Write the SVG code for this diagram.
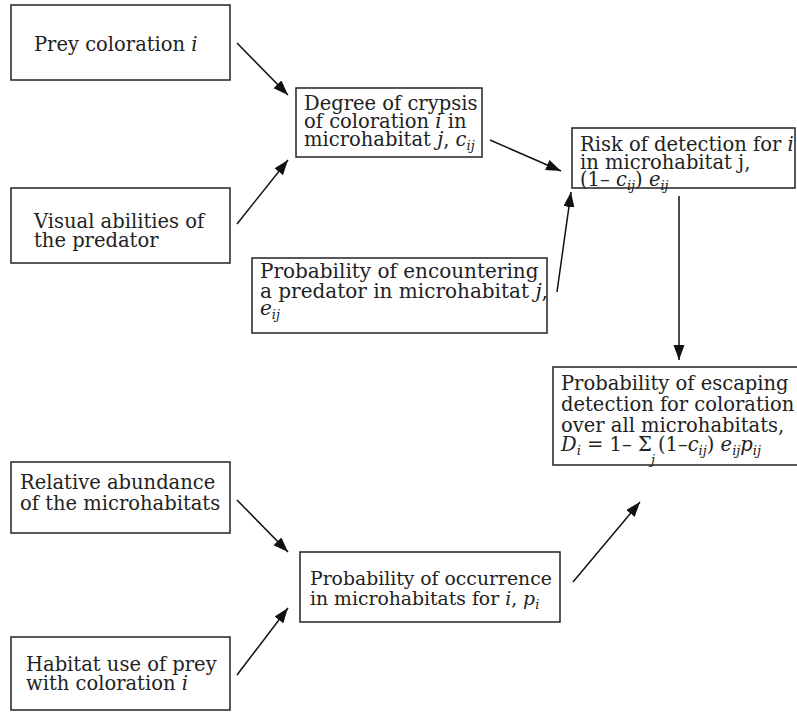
<svg xmlns="http://www.w3.org/2000/svg" width="797" height="713" viewBox="0 0 797 713">
<defs>
<style>
.box{fill:#fff;stroke:#222;stroke-width:1.5}
.t{font-family:"DejaVu Serif","Liberation Serif",serif;font-size:19.5px;fill:#222}
.t20{font-size:20px}
.t19{font-size:18.8px}
.it{font-style:italic}
.sub{font-size:13px;font-style:italic}
.conn line{stroke:#111;stroke-width:1.5}
</style>
<marker id="ah" markerUnits="userSpaceOnUse" markerWidth="16" markerHeight="12" refX="15" refY="5.5" orient="auto">
<path d="M0,0 L15,5.5 L0,11 z" fill="#111"/>
</marker>
</defs>
<rect width="797" height="713" fill="#fff"/>
<g id="connectors" class="conn">
<line x1="237" y1="43" x2="288" y2="95" marker-end="url(#ah)"/>
<line x1="237" y1="224" x2="288" y2="160" marker-end="url(#ah)"/>
<line x1="490" y1="140" x2="561" y2="171" marker-end="url(#ah)"/>
<line x1="557" y1="292" x2="571" y2="192" marker-end="url(#ah)"/>
<line x1="679" y1="196" x2="679" y2="360" marker-end="url(#ah)"/>
<line x1="237" y1="500" x2="288" y2="552" marker-end="url(#ah)"/>
<line x1="237" y1="675" x2="288" y2="608" marker-end="url(#ah)"/>
<line x1="573" y1="582" x2="640" y2="502" marker-end="url(#ah)"/>
</g>
<g id="prey">
<rect class="box" x="11" y="5" width="219" height="75"/>
<text class="t" x="34" y="51">Prey coloration <tspan class="it">i</tspan></text>
</g>
<g id="visual">
<rect class="box" x="11" y="188" width="219" height="75"/>
<text class="t" x="34" y="228">Visual abilities of</text>
<text class="t" x="34" y="247">the predator</text>
</g>
<g id="crypsis">
<rect class="box" x="296" y="88" width="186" height="69"/>
<text class="t" x="304" y="110">Degree of crypsis</text>
<text class="t" x="304" y="128">of coloration <tspan class="it">i</tspan>  in</text>
<text class="t" x="304" y="146">microhabitat <tspan class="it">j</tspan>, <tspan class="it">c</tspan><tspan class="sub" dy="4">ij</tspan></text>
</g>
<g id="risk">
<rect class="box" x="572" y="128" width="223" height="60"/>
<text class="t" x="580" y="151">Risk of detection for <tspan class="it">i</tspan></text>
<text class="t" x="580" y="169">in microhabitat j,</text>
<text class="t" x="580" y="186">(1– <tspan class="it">c</tspan><tspan class="sub" dy="4">ij</tspan><tspan dy="-4">) </tspan><tspan class="it">e</tspan><tspan class="sub" dy="4">ij</tspan></text>
</g>
<g id="encounter">
<rect class="box" x="252" y="258" width="295" height="75"/>
<text class="t t20" x="260" y="278">Probability of encountering</text>
<text class="t t20" x="260" y="298">a predator in microhabitat <tspan class="it">j</tspan>,</text>
<text class="t t20" x="260" y="315"><tspan class="it">e</tspan><tspan class="sub" dy="4">ij</tspan></text>
</g>
<g id="escape">
<rect class="box" x="553" y="367" width="250" height="98"/>
<text class="t" x="561" y="390">Probability of escaping</text>
<text class="t" x="561" y="411">detection for coloration <tspan class="it">i</tspan></text>
<text class="t" x="561" y="432">over all microhabitats,</text>
<text class="t" x="561" y="451"><tspan class="it">D</tspan><tspan class="sub" dy="4">i</tspan><tspan dy="-4"> = 1– </tspan><tspan>Σ</tspan><tspan>  (1–</tspan><tspan class="it">c</tspan><tspan class="sub" dy="4">ij</tspan><tspan dy="-4">) </tspan><tspan class="it">e</tspan><tspan class="sub" dy="4">ij</tspan><tspan class="it" dy="-4">p</tspan><tspan class="sub" dy="4">ij</tspan></text>
<text class="t sub" x="651" y="464">j</text>
</g>
<g id="abundance">
<rect class="box" x="11" y="462" width="219" height="71"/>
<text class="t" x="20" y="489">Relative abundance</text>
<text class="t" x="20" y="510">of the microhabitats</text>
</g>
<g id="occurrence">
<rect class="box" x="300" y="552" width="260" height="70"/>
<text class="t t19" x="310" y="585">Probability of occurrence</text>
<text class="t t19" x="310" y="605">in microhabitats for <tspan class="it">i</tspan>, <tspan class="it">p</tspan><tspan class="sub" dy="4">i</tspan></text>
</g>
<g id="habitat">
<rect class="box" x="11" y="637" width="219" height="73"/>
<text class="t" x="26" y="671">Habitat use of prey</text>
<text class="t" x="26" y="690">with coloration <tspan class="it">i</tspan></text>
</g>
</svg>
